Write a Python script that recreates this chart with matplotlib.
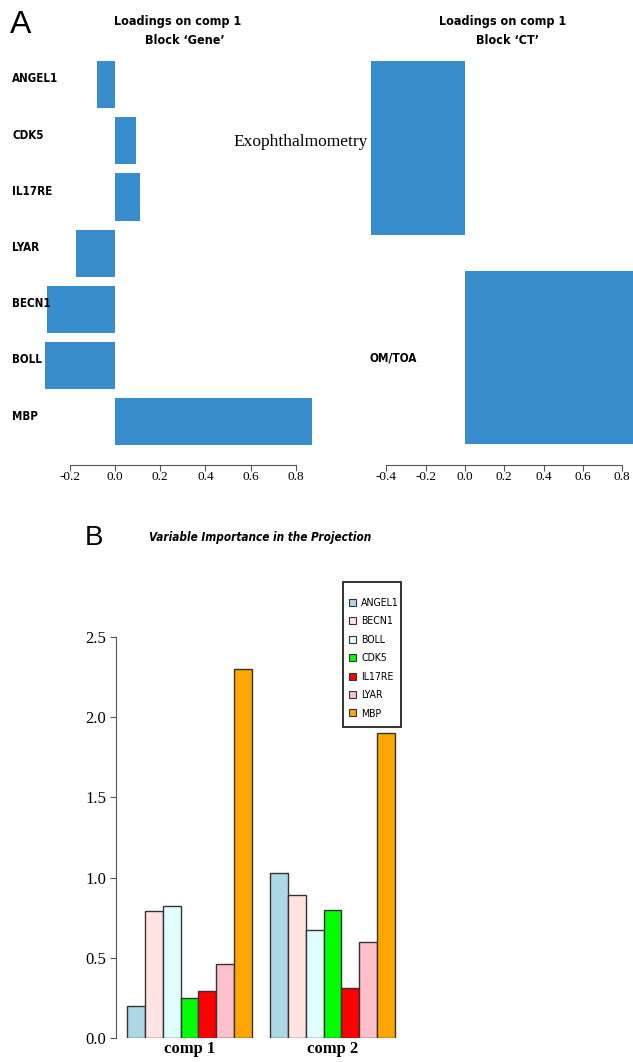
import matplotlib
matplotlib.use("Agg")
import matplotlib.pyplot as plt
from matplotlib import font_manager
from matplotlib.patches import Patch, Rectangle
import numpy as np

# ---------------- data ----------------
gene_names = ["ANGEL1", "CDK5", "IL17RE", "LYAR", "BECN1", "BOLL", "MBP"]
gene_loadings = [-0.08, 0.093, 0.11, -0.173, -0.30, -0.31, 0.87]
ct_names = ["Exophthalmometry", "OM/TOA"]
ct_loadings = [-0.48, 0.88]

vip_vars = ["ANGEL1", "BECN1", "BOLL", "CDK5", "IL17RE", "LYAR", "MBP"]
vip_colors = ["#ADD8E6", "#FFE4E1", "#E0FFFF", "#00FF00", "#FF0000", "#FFC0CB", "#FFA500"]
comp_labels = ["comp 1", "comp 2"]
vip_comp1 = [0.20, 0.79, 0.82, 0.25, 0.29, 0.46, 2.30]
vip_comp2 = [1.03, 0.89, 0.675, 0.80, 0.31, 0.60, 1.90]

# ---------------- fonts ----------------
entries = font_manager.fontManager.ttflist
names = {f.name for f in entries}
has_cond = any("Condensed" in f.fname for f in entries)
if "Liberation Sans Narrow" in names:
    NARROW = dict(fontfamily="Liberation Sans Narrow")
elif has_cond:
    NARROW = dict(fontfamily="DejaVu Sans", fontstretch="condensed")
else:
    NARROW = dict(fontfamily="Liberation Sans")
SERIF = "Liberation Serif"
SANS = "Liberation Sans"

W, H = 633, 1062
fig = plt.figure(figsize=(W / 100, H / 100), dpi=100)

def rect(l, t, r, b):
    return [l / W, 1 - b / H, (r - l) / W, (b - t) / H]

BLUE = "#388ECC"

# ---------------- Panel A left ----------------
axL = fig.add_axes(rect(40, 55, 320, 452))
n = len(gene_names)
ypos = np.arange(n)[::-1]
axL.barh(ypos, gene_loadings, height=0.84, color=BLUE, edgecolor="none")
axL.set_xlim((40 - 115) / 226, (320 - 115) / 226)
axL.set_ylim(-0.539, n - 1 + 0.525)
for s in ["top", "right", "left"]:
    axL.spines[s].set_visible(False)
axL.spines["bottom"].set_position(("outward", 9))
axL.spines["bottom"].set_bounds(-0.2, 0.8)
axL.spines["bottom"].set_color("#555555")
xt = np.arange(-0.2, 0.81, 0.2)
axL.set_xticks(xt)
axL.set_xticklabels([f"{v:.1f}" if abs(v) > 1e-9 else "0.0" for v in xt], fontfamily=SERIF, fontsize=9.5)
axL.tick_params(axis="x", length=4, color="#555555", pad=1)
axL.set_yticks([])
trL = matplotlib.transforms.blended_transform_factory(fig.transFigure, axL.transData)
for y, name in zip(ypos, gene_names):
    axL.text(12 / W, y + 0.1, name, transform=trL, ha="left", va="center",
             fontweight="bold", fontsize=8.3, **NARROW)
fig.text(178 / W, 1 - 21 / H, "Loadings on comp 1", ha="center", va="center",
         fontweight="bold", fontsize=9, **NARROW)
fig.text(185 / W, 1 - 40 / H, "Block \u2018Gene\u2019", ha="center", va="center",
         fontweight="bold", fontsize=9, **NARROW)

# ---------------- Panel A right ----------------
axR = fig.add_axes(rect(345, 55, 700, 452))
cpos = np.arange(len(ct_names))[::-1]
axR.barh(cpos, ct_loadings, height=0.83, color=BLUE, edgecolor="none")
axR.set_xlim((345 - 465) / 196.5, (700 - 465) / 196.5)
axR.set_ylim(-0.451, 1.444)
for s in ["top", "right", "left"]:
    axR.spines[s].set_visible(False)
axR.spines["bottom"].set_position(("outward", 9))
axR.spines["bottom"].set_bounds(-0.4, 0.8)
axR.spines["bottom"].set_color("#555555")
tv = np.arange(-0.4, 0.81, 0.2)
axR.set_xticks(tv)
axR.set_xticklabels([f"{v:.1f}" if abs(v) > 1e-9 else "0.0" for v in tv], fontfamily=SERIF, fontsize=9.5)
axR.tick_params(axis="x", length=4, color="#555555", pad=1)
axR.set_yticks([])
trR = matplotlib.transforms.blended_transform_factory(fig.transFigure, axR.transData)
axR.text(368 / W, cpos[0] + 0.03, ct_names[0], transform=trR, ha="right", va="center",
         fontfamily=SERIF, fontsize=12.5)
axR.text(369 / W, cpos[1] + 0.0, ct_names[1], transform=trR, ha="left", va="center",
         fontweight="bold", fontsize=8.5, **NARROW)
fig.text(503 / W, 1 - 21 / H, "Loadings on comp 1", ha="center", va="center",
         fontweight="bold", fontsize=9, **NARROW)
fig.text(508 / W, 1 - 40 / H, "Block \u2018CT\u2019", ha="center", va="center",
         fontweight="bold", fontsize=9, **NARROW)

fig.text(10 / W, 1 - 25 / H, "A", ha="left", va="center", fontfamily=SANS, fontsize=23)

# ---------------- Panel B ----------------
axB = fig.add_axes(rect(116, 629, 406, 1038))
k = len(vip_vars)
x1 = 1 + np.arange(k) + 0.5
x2 = 9 + np.arange(k) + 0.5
axB.bar(x1, vip_comp1, width=1.0, color=vip_colors, edgecolor="#333333", linewidth=1.0)
axB.bar(x2, vip_comp2, width=1.0, color=vip_colors, edgecolor="#333333", linewidth=1.0)
axB.set_xlim(1 - 11 / 17.87, 1 + (406 - 127) / 17.87)
axB.set_ylim(0, 2.55)
for s in ["top", "right", "bottom"]:
    axB.spines[s].set_visible(False)
axB.spines["left"].set_bounds(0, 2.5)
axB.spines["left"].set_color("#555555")
yt = np.arange(0, 2.51, 0.5)
axB.set_yticks(yt)
axB.set_yticklabels([f"{v:.1f}" for v in yt], fontfamily=SERIF, fontsize=12)
axB.tick_params(axis="y", length=4, color="#555555", pad=3)
axB.set_xticks([4.5, 12.5])
axB.set_xticklabels(comp_labels, fontfamily=SERIF, fontsize=12, fontweight="bold")
axB.tick_params(axis="x", length=0, pad=2)

fig.text(260 / W, 1 - 538 / H, "Variable Importance in the Projection", ha="center", va="center",
         fontweight="bold", fontstyle="italic", fontsize=8.5, **NARROW)
fig.text(85 / W, 1 - 538 / H, "B", ha="left", va="center", fontfamily=SANS, fontsize=20)

# legend: entries without frame, R-style box drawn around them
handles = [Patch(facecolor=c, edgecolor="#333333", linewidth=0.8) for c in vip_colors]
prop = {"size": 7.6, "family": NARROW["fontfamily"]}
if "fontstretch" in NARROW:
    prop["stretch"] = NARROW["fontstretch"]
leg = fig.legend(handles, vip_vars, loc="upper left", bbox_to_anchor=(349 / W, 1 - 598 / H),
                 prop=prop, frameon=False,
                 handlelength=0.65, handleheight=0.65, handletextpad=0.5, labelspacing=0.8,
                 borderpad=0, borderaxespad=0)
fig.add_artist(Rectangle((343 / W, 1 - 727 / H), 58 / W, 145 / H, transform=fig.transFigure,
                         facecolor="white", edgecolor="#222222", linewidth=1.3, zorder=leg.get_zorder() - 0.1))

fig.savefig("out.png", dpi=100)
